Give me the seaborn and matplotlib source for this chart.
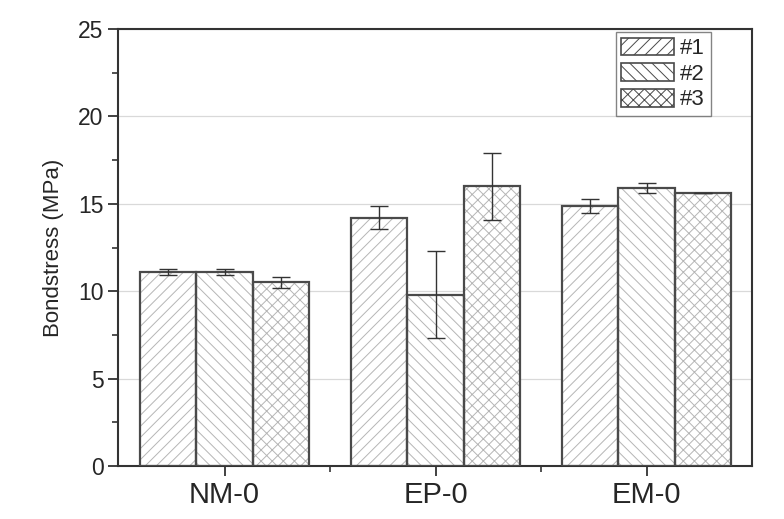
import matplotlib
matplotlib.use("Agg")
import matplotlib.pyplot as plt
import seaborn as sns
import pandas as pd
from matplotlib.ticker import MultipleLocator, FixedLocator
from matplotlib.patches import Patch

categories = ["NM-0", "EP-0", "EM-0"]
series = ["#1", "#2", "#3"]
values_1 = [11.1, 14.2, 14.9]
values_2 = [11.1, 9.8, 15.9]
values_3 = [10.5, 16.0, 15.6]
errors_1 = [0.15, 0.65, 0.4]
errors_2 = [0.15, 2.5, 0.3]
errors_3 = [0.3, 1.9, 0.0]

rows = []
for s, vals, errs in zip(series, [values_1, values_2, values_3], [errors_1, errors_2, errors_3]):
    for c, v, e in zip(categories, vals, errs):
        rows.append({"cat": c, "series": s, "val": v, "err": e})
df = pd.DataFrame(rows)

sns.set_theme(style="white")
plt.rcParams['font.family'] = ['Liberation Sans', 'DejaVu Sans']
plt.rcParams['hatch.linewidth'] = 0.7

fig = plt.figure(figsize=(7.84, 5.19), dpi=100)
ax = fig.add_axes([0.1505, 0.1021, 0.8087, 0.8419])

hatches = ["///", "\\\\\\", "xxx"]
hatch_col = "#b5b5b5"
edge_col = "#4a4a4a"

sns.barplot(data=df, x="cat", y="val", hue="series", order=categories,
            hue_order=series, errorbar=None, width=0.8, ax=ax,
            palette=["white"] * 3, saturation=1, legend=False, zorder=2)
for cont, h in zip(ax.containers, hatches):
    for p in cont:
        p.set_hatch(h)
        p.set_edgecolor(hatch_col)
        p.set_linewidth(0)
        p.set_zorder(2)

n_before = len(ax.containers)
sns.barplot(data=df, x="cat", y="val", hue="series", order=categories,
            hue_order=series, errorbar=None, width=0.8, ax=ax,
            fill=False, legend=False, zorder=3)
for cont in ax.containers[n_before:]:
    for p in cont:
        p.set_edgecolor(edge_col)
        p.set_linewidth(1.6)
        p.set_facecolor("none")
        p.set_zorder(3)

for cont, s in zip(ax.containers[:n_before], series):
    sub = df[df["series"] == s].set_index("cat").loc[categories]
    xs = [p.get_x() + p.get_width() / 2 for p in cont]
    ax.errorbar(xs, sub["val"].values, yerr=sub["err"].values, fmt="none",
                ecolor="#333333", elinewidth=1.0, capsize=6.5, capthick=1.0, zorder=4)

handles = [Patch(facecolor="white", edgecolor=edge_col, hatch=h, linewidth=1.2) for h in hatches]
leg = ax.legend(handles, series, loc="upper right", bbox_to_anchor=(0.935, 0.993),
                bbox_transform=ax.transAxes, borderaxespad=0,
                fontsize=16, handlelength=2.35, handleheight=0.85, frameon=True,
                fancybox=False, edgecolor="#666666", borderpad=0.25,
                labelspacing=0.18, handletextpad=0.3)
leg.get_frame().set_linewidth(1.0)
for hp in leg.get_patches():
    hp.set_edgecolor(edge_col)

ax.set_xlim(-0.505, 2.5)
ax.set_ylim(0, 25)
ax.yaxis.set_major_locator(MultipleLocator(5))
ax.yaxis.set_minor_locator(MultipleLocator(2.5))
ax.xaxis.set_minor_locator(FixedLocator([0.5, 1.5]))

for sp in ax.spines.values():
    sp.set_color("#333333")
    sp.set_linewidth(1.5)

ax.tick_params(axis="both", which="major", direction="out", length=7.5, width=1.3,
               color="#333333", bottom=True, left=True, top=False, right=False)
ax.tick_params(axis="both", which="minor", direction="out", length=4, width=1.2,
               color="#333333", bottom=True, left=True, top=False, right=False)
ax.tick_params(axis="y", labelsize=16.5, pad=3)
ax.tick_params(axis="x", labelsize=21, pad=3)

ax.set_xlabel("")
ax.set_ylabel("Bondstress (MPa)", fontsize=16, labelpad=10)
ax.yaxis.grid(True, color="#d9d9d9", linewidth=0.9)
ax.xaxis.grid(False)
ax.set_axisbelow(True)

fig.savefig("out.png", dpi=100)
